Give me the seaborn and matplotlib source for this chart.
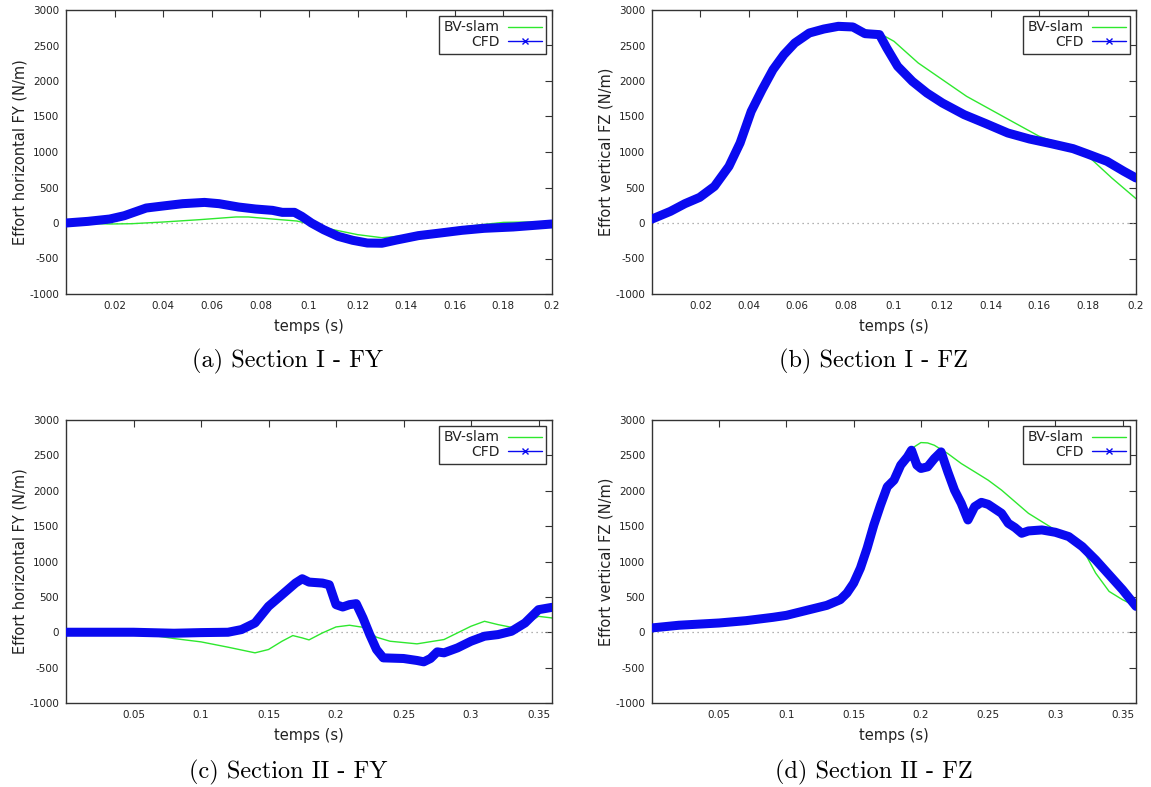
import matplotlib
matplotlib.use("Agg")
import matplotlib.pyplot as plt
from matplotlib.lines import Line2D
import seaborn as sns

# Section I - FY
t_a_cfd = [0.0, 0.009, 0.018, 0.024, 0.033, 0.04, 0.048, 0.057, 0.063, 0.071, 0.078,
           0.085, 0.089, 0.094, 0.097, 0.101, 0.106, 0.112, 0.118, 0.124, 0.130,
           0.136, 0.145, 0.154, 0.163, 0.172, 0.184, 0.2]
fy_a_cfd = [0, 23, 56, 103, 211, 240, 272, 290, 272, 225, 197,
            178, 150, 150, 94, 0, -94, -188, -244, -282, -285,
            -240, -178, -141, -103, -75, -56, -14]
t_a_bv = [0.0, 0.018, 0.027, 0.04, 0.055, 0.07, 0.075, 0.085, 0.095, 0.1, 0.11,
          0.12, 0.13, 0.14, 0.15, 0.16, 0.17, 0.18, 0.19, 0.2]
fy_a_bv = [0, -14, -10, 14, 47, 85, 85, 56, 28, -10, -94,
           -164, -207, -178, -117, -70, -28, 9, 14, 0]

# Section I - FZ
t_b_cfd = [0.0, 0.0076, 0.0136, 0.0197, 0.0258, 0.0318, 0.0364, 0.041, 0.0455, 0.05,
           0.0545, 0.059, 0.065, 0.071, 0.077, 0.083, 0.088, 0.094, 0.097, 0.1015,
           0.1076, 0.1136, 0.12, 0.129, 0.138, 0.147, 0.156, 0.165, 0.174, 0.18,
           0.188, 0.195, 0.2]
fz_b_cfd = [56, 164, 272, 361, 516, 798, 1127, 1573, 1878, 2160,
            2371, 2535, 2676, 2732, 2770, 2761, 2667, 2653, 2465, 2207,
            1995, 1831, 1690, 1526, 1399, 1268, 1183, 1117, 1047, 972,
            869, 728, 634]
t_b_bv = [0.0, 0.0136, 0.0258, 0.0364, 0.0455, 0.0545, 0.065, 0.077, 0.083, 0.088,
          0.095, 0.1, 0.11, 0.12, 0.13, 0.14, 0.15, 0.16, 0.17, 0.18, 0.19, 0.2]
fz_b_bv = [56, 272, 516, 1127, 1878, 2371, 2676, 2770, 2761, 2723,
           2653, 2559, 2254, 2019, 1784, 1596, 1408, 1221, 1103, 948, 634, 343]

# Section II - FY
t_c_cfd = [0.0, 0.05, 0.08, 0.1, 0.12, 0.13, 0.14, 0.15, 0.16, 0.17, 0.175, 0.18,
           0.19, 0.195, 0.2, 0.205, 0.21, 0.215, 0.22, 0.225, 0.23, 0.235, 0.25,
           0.26, 0.265, 0.27, 0.275, 0.28, 0.29, 0.3, 0.31, 0.32, 0.33, 0.34,
           0.35, 0.36]
fy_c_cfd = [0, 0, -14, -5, 0, 38, 131, 366, 530, 695, 756, 709,
            695, 671, 390, 357, 390, 404, 202, -33, -244, -362, -371,
            -399, -418, -371, -277, -291, -221, -127, -56, -33, 14, 131,
            319, 352]
t_c_bv = [0.0, 0.05, 0.06, 0.08, 0.1, 0.12, 0.14, 0.15, 0.16, 0.168, 0.175, 0.18,
          0.19, 0.2, 0.21, 0.22, 0.23, 0.24, 0.26, 0.28, 0.3, 0.31, 0.32, 0.33,
          0.34, 0.35, 0.36]
fy_c_bv = [0, 0, -33, -89, -136, -211, -291, -244, -127, -47, -80, -108,
           -9, 75, 99, 70, -70, -127, -164, -103, 85, 155, 108, 70,
           108, 225, 202]

# Section II - FZ
t_d_cfd = [0.0, 0.02, 0.05, 0.07, 0.09, 0.1, 0.12, 0.13, 0.14, 0.145, 0.15, 0.155,
           0.16, 0.165, 0.17, 0.175, 0.18, 0.185, 0.19, 0.193, 0.197, 0.2, 0.205,
           0.21, 0.215, 0.22, 0.225, 0.23, 0.235, 0.24, 0.245, 0.25, 0.26, 0.265,
           0.27, 0.275, 0.28, 0.29, 0.3, 0.31, 0.32, 0.33, 0.34, 0.35, 0.36]
fz_d_cfd = [61, 99, 131, 164, 211, 239, 333, 380, 460, 554, 695, 906,
            1188, 1516, 1798, 2056, 2150, 2362, 2479, 2573, 2362, 2315, 2338,
            2455, 2549, 2268, 2009, 1822, 1587, 1775, 1836, 1808, 1681, 1540,
            1479, 1399, 1432, 1446, 1413, 1352, 1211, 1023, 812, 601, 366]
t_d_bv = [0.0, 0.05, 0.1, 0.13, 0.14, 0.15, 0.16, 0.17, 0.175, 0.18, 0.19, 0.195,
          0.2, 0.205, 0.21, 0.22, 0.23, 0.24, 0.25, 0.26, 0.27, 0.28, 0.29, 0.3,
          0.31, 0.32, 0.33, 0.34, 0.35, 0.36]
fz_d_bv = [61, 131, 239, 380, 460, 695, 1141, 1704, 2033, 2197, 2502, 2620,
           2681, 2676, 2643, 2526, 2385, 2268, 2150, 2009, 1845, 1681, 1563, 1446,
           1375, 1188, 836, 577, 460, 366]

ylabels = ["Effort horizontal FY (N/m)", "Effort vertical FZ (N/m)",
           "Effort horizontal FY (N/m)", "Effort vertical FZ (N/m)"]
captions = ["(a) Section I - FY", "(b) Section I - FZ",
            "(c) Section II - FY", "(d) Section II - FZ"]

sns.set_style("white")
plt.rcParams["font.family"] = ["DejaVu Sans"]
plt.rcParams["axes.unicode_minus"] = False
plt.rcParams["xtick.direction"] = "in"
plt.rcParams["ytick.direction"] = "in"

GREEN = "#2ee82e"
BLUE = "#0a0af0"
TXT = "#222222"

fig = plt.figure(figsize=(11.51, 7.87), dpi=100)
W, H = 1151, 787
boxes = [(66, 10, 552, 294), (652, 10, 1136, 294),
         (66, 420, 552, 703), (652, 420, 1136, 703)]
panels = [
    (t_a_bv, fy_a_bv, t_a_cfd, fy_a_cfd, 0.2, [0.02 * i for i in range(1, 11)]),
    (t_b_bv, fz_b_bv, t_b_cfd, fz_b_cfd, 0.2, [0.02 * i for i in range(1, 11)]),
    (t_c_bv, fy_c_bv, t_c_cfd, fy_c_cfd, 0.36, [0.05 * i for i in range(1, 8)]),
    (t_d_bv, fz_d_bv, t_d_cfd, fz_d_cfd, 0.36, [0.05 * i for i in range(1, 8)]),
]
cap_pos = [(288, 361), (873, 361), (288, 772), (874, 772)]

for i, (box, p) in enumerate(zip(boxes, panels)):
    x0, y0, x1, y1 = box
    ax = fig.add_axes([x0 / W, 1 - y1 / H, (x1 - x0) / W, (y1 - y0) / H])
    tb, vb, tc, vc, xmax, xt = p
    ax.axhline(0, color="#999999", lw=0.9, ls=(0, (1, 3)), zorder=1)
    # green curve sits under the thick CFD band
    sns.lineplot(x=tb, y=vb, ax=ax, color=GREEN, linewidth=1.0, zorder=2)
    sns.lineplot(x=tc, y=vc, ax=ax, color=BLUE, linewidth=6.5, zorder=3,
                 solid_joinstyle="round", solid_capstyle="round")
    ax.set_xlim(0, xmax)
    ax.set_ylim(-1000, 3000)
    ax.set_xticks(xt)
    ax.set_xticklabels(["%g" % round(v, 2) for v in xt])
    ax.set_yticks(range(-1000, 3001, 500))
    ax.tick_params(top=True, right=True, length=5, width=0.8, labelsize=7.5,
                   labelcolor=TXT, color="#333333", pad=5)
    for s in ax.spines.values():
        s.set_color("#333333")
        s.set_linewidth(1.0)
    ax.set_xlabel("temps (s)", fontsize=10.5, color=TXT, labelpad=6)
    ax.set_ylabel(ylabels[i], fontsize=10.5, color=TXT, labelpad=1)
    handles = [Line2D([], [], color=GREEN, lw=1.0),
               Line2D([], [], color=BLUE, lw=1.0, marker="x", markersize=5)]
    leg = ax.legend(handles, ["BV-slam", "CFD"], loc="upper right", fontsize=10,
                    markerfirst=False, fancybox=False, framealpha=1,
                    edgecolor="#333333", handlelength=2.4, borderaxespad=0.4,
                    labelspacing=0.05, handletextpad=0.6, borderpad=0.35)
    leg.get_frame().set_linewidth(1.0)
    for txt in leg.get_texts():
        txt.set_color(TXT)
    cx, cy = cap_pos[i]
    fig.text(cx / W, 1 - cy / H, captions[i], ha="center", va="center",
             fontsize=17.5, family="cmr10", color="black")

fig.savefig("out.png", dpi=100)
